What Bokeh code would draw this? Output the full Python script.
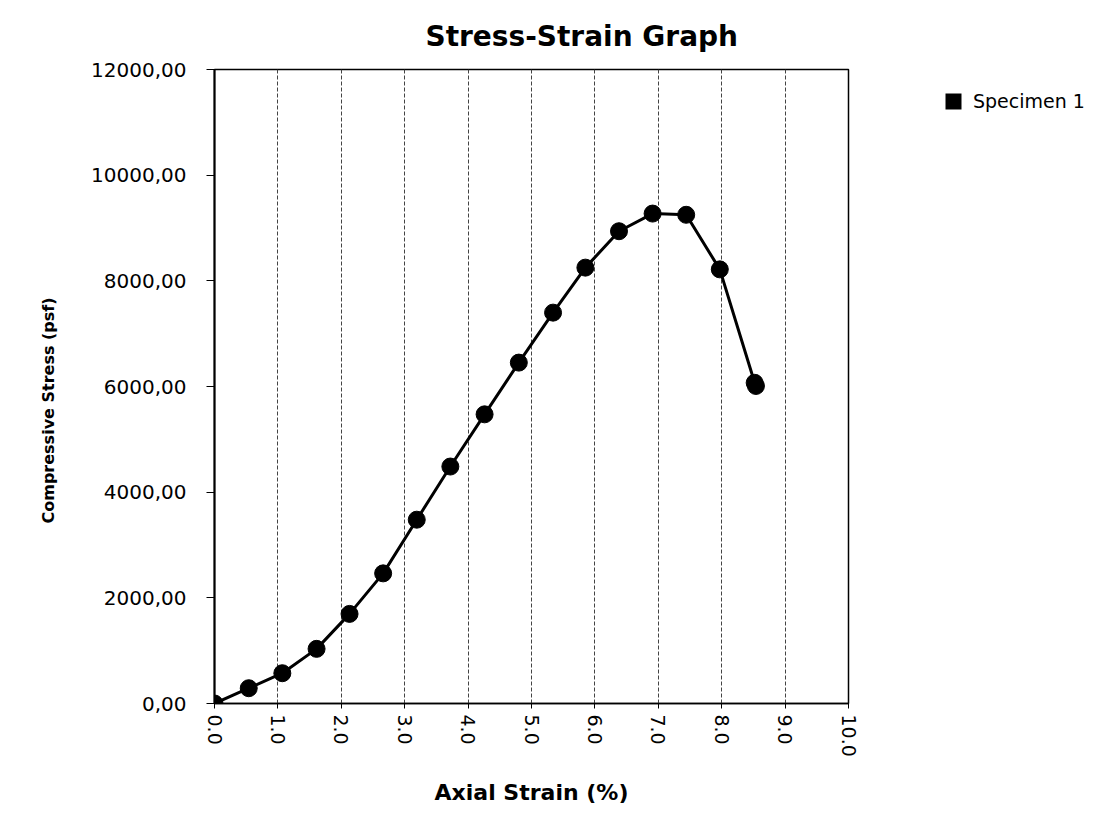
import math
from bokeh.plotting import figure
from bokeh.layouts import row
from bokeh.models import FixedTicker, Legend, LegendItem, Range1d, Title
from bokeh.embed import file_html
from bokeh.resources import INLINE

# Data
strain = [0.0, 0.54, 1.07, 1.61, 2.13, 2.66, 3.19, 3.72, 4.26, 4.80, 5.34, 5.85, 6.38, 6.91, 7.44, 7.97, 8.52, 8.54]
stress = [0, 289, 573, 1034, 1696, 2463, 3479, 4485, 5473, 6452, 7398, 8250, 8939, 9273, 9250, 8217, 6070, 6010]

x_ticks = [0, 1, 2, 3, 4, 5, 6, 7, 8, 9, 10]
x_tick_labels = ["0.0", "1.0", "2.0", "3.0", "4.0", "5.0", "6.0", "7.0", "8.0", "9.0", "10.0"]
y_ticks = [0, 2000, 4000, 6000, 8000, 10000, 12000]
y_tick_labels = ["0,00", "2000,00", "4000,00", "6000,00", "8000,00", "10000,00", "12000,00"]

series_name = "Specimen 1"
title_text = "Stress-Strain Graph"
x_title = "Axial Strain (%)"
y_title = "Compressive Stress (psf)"

FONT = "DejaVu Sans"

p = figure(width=858, height=816,
           x_range=Range1d(0, 10), y_range=Range1d(0, 12000),
           output_backend="svg", toolbar_location=None,
           min_border_left=214, min_border_right=10,
           min_border_top=68, min_border_bottom=113)

p.title.text = title_text
p.title.align = "left"
p.title.offset = 211
p.title.text_font = FONT
p.title.text_font_style = "bold"
p.title.text_font_size = "28px"
p.title.text_color = "black"
p.title.standoff = 34

p.outline_line_color = "black"
p.outline_line_width = 1.5
p.background_fill_color = "white"
p.border_fill_color = "white"

# grids
p.ygrid.grid_line_color = None
p.xgrid.ticker = FixedTicker(ticks=x_ticks)
p.xgrid.grid_line_color = "#444444"
p.xgrid.grid_line_dash = "4 2"
p.xgrid.grid_line_width = 1

# x axis
xa = p.xaxis[0]
xa.ticker = FixedTicker(ticks=x_ticks)
xa.major_label_overrides = {t: l for t, l in zip(x_ticks, x_tick_labels)}
xa.major_label_orientation = -math.pi / 2
xa.major_label_text_font = FONT
xa.major_label_text_font_size = "19px"
xa.major_label_text_color = "black"
xa.major_label_standoff = 6
xa.minor_tick_line_color = None
xa.major_tick_in = 0
xa.major_tick_out = 5
xa.axis_line_color = "black"
xa.axis_line_width = 1.5
xa.axis_label = x_title
xa.axis_label_text_font = FONT
xa.axis_label_text_font_style = "bold"
xa.axis_label_text_font_size = "22px"
xa.axis_label_text_color = "black"
xa.axis_label_standoff = 20

# y axis
ya = p.yaxis[0]
ya.ticker = FixedTicker(ticks=y_ticks)
ya.major_label_overrides = {t: l for t, l in zip(y_ticks, y_tick_labels)}
ya.major_label_text_font = FONT
ya.major_label_text_font_size = "20px"
ya.major_label_text_color = "black"
ya.major_label_standoff = 20
ya.minor_tick_line_color = None
ya.major_tick_in = 0
ya.major_tick_out = 8
ya.axis_line_color = "black"
ya.axis_line_width = 2

ytitle = Title(text=y_title, align="left", offset=180,
               text_font=FONT, text_font_style="bold", text_font_size="16px",
               text_color="black", standoff=62)
p.add_layout(ytitle, "left")

p.line(strain, stress, line_color="black", line_width=3)
p.scatter(strain, stress, size=17, fill_color="black", line_color="black")

# legend panel to the right of the plot
q = figure(width=237, height=816, x_range=Range1d(0, 1), y_range=Range1d(0, 1),
           x_axis_type=None, y_axis_type=None,
           output_backend="svg", toolbar_location=None,
           min_border_left=0, min_border_right=0, min_border_top=0, min_border_bottom=0)
q.outline_line_color = None
q.grid.visible = False
q.background_fill_color = "white"
q.border_fill_color = "white"

# zero-area swatch renderer (outside the visible range): only the legend draws it
r_leg = q.quad(left=strain, right=strain, bottom=stress, top=stress,
               fill_color="black", line_color=None)
legend = Legend(items=[LegendItem(label=series_name, renderers=[r_leg])],
                location=(85, 591), glyph_width=20, glyph_height=20,
                label_text_font=FONT, label_text_font_size="19px", label_text_color="black",
                border_line_color=None, background_fill_alpha=0,
                padding=0, margin=0, label_standoff=10, label_height=20, spacing=0)
q.add_layout(legend, "center")

layout = row(p, q)
open("out.html", "w").write(file_html(layout, INLINE))
